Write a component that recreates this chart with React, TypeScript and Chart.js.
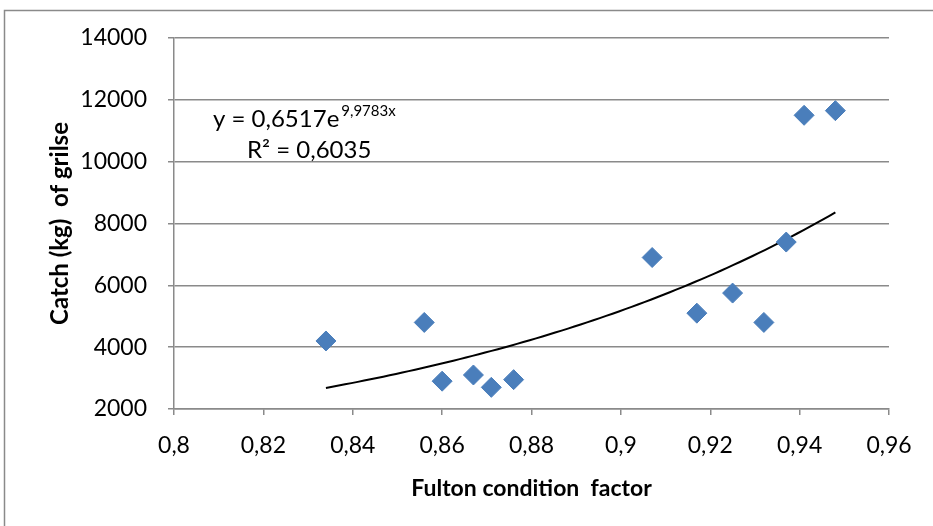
import React, { useEffect, useRef } from "react";
import { Chart, registerables } from "chart.js";

Chart.register(...registerables);

const fultonFactor = [0.834, 0.856, 0.86, 0.867, 0.871, 0.876, 0.907, 0.917, 0.925, 0.932, 0.937, 0.941, 0.948];
const catchKg = [4200, 4800, 2900, 3100, 2700, 2950, 6900, 5100, 5750, 4800, 7400, 11500, 11650];
const trendA = 0.6517;
const trendB = 9.9783;
const equationMain = "y = 0,6517e";
const equationExp = "9,9783x";
const r2Label = "R² = 0,6035";
const xTitle = "Fulton condition  factor";
const yTitle = "Catch (kg)  of grilse";

const FONT = "Lato, 'Open Sans', sans-serif";

export default function App() {
  const ref = useRef<HTMLCanvasElement | null>(null);

  useEffect(() => {
    document.body.style.margin = "0";
    const canvas = ref.current!;
    const minX = Math.min(...fultonFactor);
    const maxX = Math.max(...fultonFactor);
    const trend: { x: number; y: number }[] = [];
    const n = 80;
    for (let i = 0; i <= n; i++) {
      const x = minX + ((maxX - minX) * i) / n;
      trend.push({ x, y: trendA * Math.exp(trendB * x) });
    }

    const deco = {
      id: "deco",
      afterDraw(chart: any) {
        const ctx = chart.ctx as CanvasRenderingContext2D;
        const area = chart.chartArea;
        ctx.save();
        // outer border
        ctx.strokeStyle = "#8a8a8a";
        ctx.lineWidth = 1.5;
        ctx.strokeRect(4.5, 10.5, 1000, 1000);
        // equation
        ctx.fillStyle = "#000";
        ctx.textBaseline = "alphabetic";
        ctx.textAlign = "left";
        ctx.font = `24px ${FONT}`;
        ctx.fillText(equationMain, 213, 127);
        const w = ctx.measureText(equationMain).width;
        ctx.font = `15px ${FONT}`;
        ctx.fillText(equationExp, 213 + w + 2, 116);
        ctx.font = `24px ${FONT}`;
        ctx.fillText(r2Label, 247, 158);
        // x title
        ctx.font = `bold 23px ${FONT}`;
        ctx.textAlign = "center";
        ctx.textBaseline = "middle";
        ctx.fillText(xTitle, (area.left + area.right) / 2, 489);
        // y title
        ctx.font = `bold 24px ${FONT}`;
        ctx.translate(60, (area.top + area.bottom) / 2);
        ctx.rotate(-Math.PI / 2);
        ctx.fillText(yTitle, 0, 0);
        ctx.restore();
      },
    };

    const chart = new Chart(canvas, {
      type: "scatter",
      data: {
        datasets: [
          {
            label: "Catch",
            data: fultonFactor.map((x, i) => ({ x, y: catchKg[i] })),
            pointStyle: "rectRot",
            pointRadius: 10,
            pointHoverRadius: 10,
            backgroundColor: "#4a7ebb",
            borderColor: "#4a7ebb",
            borderWidth: 1,
          },
          {
            type: "line",
            label: "Trend",
            data: trend,
            borderColor: "#000",
            borderWidth: 2,
            pointRadius: 0,
            fill: false,
            tension: 0,
          } as any,
        ],
      },
      options: {
        animation: false,
        responsive: false,
        devicePixelRatio: 1,
        layout: { padding: { top: 38, right: 44, bottom: 0, left: 0 } },
        plugins: { legend: { display: false }, tooltip: { enabled: false } },
        scales: {
          x: {
            type: "linear",
            min: 0.8,
            max: 0.96,
            afterFit: (s: any) => {
              s.height = 117;
            },
            ticks: {
              stepSize: 0.02,
              padding: 17,
              color: "#000",
              font: { family: FONT, size: 23 },
              callback: (v: any) => String(Math.round(Number(v) * 100) / 100).replace(".", ","),
            },
            grid: {
              drawOnChartArea: false,
              drawTicks: true,
              tickLength: 6,
              color: "#8a8a8a",
              lineWidth: 1.5,
            },
            border: { color: "#8a8a8a", width: 1.5 },
          },
          y: {
            min: 2000,
            max: 14000,
            afterFit: (s: any) => {
              s.width = 174;
            },
            ticks: {
              stepSize: 2000,
              padding: 21,
              color: "#000",
              font: { family: FONT, size: 23 },
              callback: (v: any) => String(v),
            },
            grid: {
              drawTicks: true,
              tickLength: 6,
              color: "#8a8a8a",
              lineWidth: 1.5,
            },
            border: { color: "#8a8a8a", width: 1.5 },
          },
        },
      },
      plugins: [deco],
    });
    return () => chart.destroy();
  }, []);

  return <canvas ref={ref} width={933} height={526} style={{ display: "block" }} />;
}
